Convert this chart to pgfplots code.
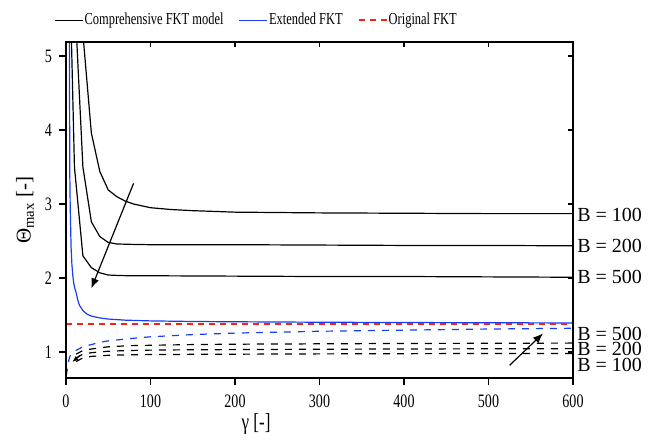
\documentclass[border=0pt]{standalone}
\usepackage{fontspec}
\setmainfont{Liberation Serif}[FakeStretch=0.74]
\newfontfamily\plainfont{Liberation Serif}
\usepackage{pgfplots}
\pgfplotsset{compat=1.18}
\usetikzlibrary{arrows.meta}
\definecolor{fktblue}{RGB}{25,60,250}
\definecolor{fktred}{RGB}{255,30,20}

\begin{document}
\begin{tikzpicture}
\useasboundingbox (-33pt,-33.5pt) rectangle (291pt,189pt);
\begin{axis}[
  at={(0,0)}, anchor=south west,
  scale only axis, width=253.5pt, height=168pt,
  xmin=0, xmax=600, ymin=0.648, ymax=5.19,
  xtick={0,100,...,600}, ytick={1,2,3,4,5},
  tick pos=left, tick align=outside, major tick length=3.5pt,
  every tick/.style={black, line width=0.65pt},
  axis line style={line width=0.65pt},
  /pgf/number format/assume math mode=true,
  tick label style={font=\fontsize{9.5}{10}\selectfont},
  xticklabel style={yshift=-1.2pt},
  xlabel={γ [-]},
  every axis x label/.style={at={(axis description cs:0.375,-0.137)}, anchor=center, font=\fontsize{11.5}{13}\selectfont},
  ylabel={{\plainfont Θ\textsubscript{max} [-]}},
  every axis y label/.style={at={(axis description cs:-0.081,0.5)}, anchor=center, rotate=90, font=\fontsize{10.5}{12}\selectfont},
  clip mode=individual,
  legend columns=3,
  legend style={draw=none, fill=none, at={(axis description cs:0.375,1.065)}, anchor=center,
    font=\fontsize{8.4}{9}\selectfont, nodes={inner sep=0.6pt},
    /tikz/every even column/.append style={column sep=7pt}},
  legend image code/.code={\draw[#1] (0pt,0pt) -- (14pt,0pt);},
]
% comprehensive FKT model, B = 100, 200, 500
\addplot[black, line width=0.6pt] coordinates {
 (20,5.30) (30,3.96) (40,3.44) (50,3.19) (60,3.10) (70,3.04) (80,3.00) (100,2.95)
 (125,2.925) (150,2.91) (200,2.89) (300,2.88) (400,2.875) (500,2.87) (600,2.87)};
\addlegendentry{Comprehensive FKT model}
\addplot[black, line width=0.6pt, forget plot] coordinates {
 (10,5.85) (20,3.50) (30,2.76) (40,2.56) (50,2.48) (60,2.46) (75,2.455) (100,2.45)
 (200,2.45) (300,2.445) (400,2.44) (500,2.44) (600,2.435)};
\addplot[black, line width=0.6pt, forget plot] coordinates {
 (5,5.91) (10,3.50) (20,2.30) (30,2.14) (40,2.07) (50,2.04) (60,2.035) (75,2.03)
 (100,2.03) (200,2.025) (300,2.02) (400,2.02) (500,2.015) (600,2.01)};
% extended FKT
\addplot[fktblue, line width=0.6pt] coordinates {
 (3.5,7.0) (4,5.2) (4.5,3.4) (5,2.95) (6,2.42) (7,2.18) (8,2.04) (9,1.94) (10,1.88)
 (12,1.80) (14,1.70) (16,1.63) (20,1.56) (25,1.51) (30,1.485) (40,1.46) (50,1.445)
 (70,1.43) (100,1.42) (150,1.412) (200,1.408) (300,1.402) (400,1.398) (500,1.395) (600,1.392)};
\addlegendentry{Extended FKT}
% original FKT
\addplot[color=fktred, line width=0.85pt, dashed, dash pattern=on 3pt off 2.5pt] table {
x y
0 1.382
300 1.382
600 1.382
};
\addlegendentry{Original FKT}
% dashed families
\addplot[fktblue, line width=0.6pt, dash pattern=on 3.5pt off 3.5pt, forget plot] coordinates {
 (0.5,0.68) (1,0.73) (2,0.79) (3,0.87) (4,0.92) (5,0.95) (7,0.98) (10,1.01) (15,1.04)
 (20,1.07) (30,1.10) (40,1.13) (50,1.15) (75,1.18) (100,1.205) (150,1.235) (200,1.255)
 (300,1.28) (400,1.295) (500,1.31) (600,1.32)};
\addplot[black, line width=0.6pt, dash pattern=on 3.5pt off 3.5pt, forget plot] coordinates {
 (12,0.97) (20,1.02) (30,1.04) (50,1.07) (75,1.085) (100,1.09) (150,1.10) (200,1.105)
 (300,1.11) (400,1.115) (500,1.117) (600,1.12)};
\addplot[black, line width=0.6pt, dash pattern=on 3.5pt off 3.5pt, forget plot] coordinates {
 (12,0.92) (20,0.97) (30,0.99) (50,1.01) (75,1.02) (100,1.025) (150,1.03) (200,1.032)
 (300,1.037) (400,1.04) (500,1.043) (600,1.045)};
\addplot[black, line width=0.6pt, dash pattern=on 3.5pt off 3.5pt, forget plot] coordinates {
 (12,0.87) (20,0.92) (30,0.94) (50,0.955) (75,0.962) (100,0.965) (150,0.968) (200,0.97)
 (300,0.974) (400,0.977) (500,0.979) (600,0.98)};
% arrows
\draw[line width=0.6pt, -{Latex[length=5pt,width=4pt]}] (axis cs:80,3.28) -- (axis cs:30,1.86);
\draw[line width=0.6pt, -{Latex[length=5pt,width=4pt]}] (axis cs:525,0.82) -- (axis cs:564.5,1.25);
\draw[line width=0.5pt, -{Latex[length=3pt,width=2.5pt]}] (axis cs:17,0.955) -- (axis cs:7.5,0.865);
% B labels
\begin{scope}[every node/.style={anchor=west, inner sep=0pt, xshift=2pt, font=\plainfont\fontsize{10}{12}\selectfont}]
\node at (axis cs:600,2.85) {B = 100};
\node at (axis cs:600,2.43) {B = 200};
\node at (axis cs:600,2.01) {B = 500};
\node at (axis cs:600,1.24) {B = 500};
\node at (axis cs:600,1.04) {B = 200};
\node at (axis cs:600,0.83) {B = 100};
\end{scope}
\end{axis}
\begin{axis}[
  at={(0,0)}, anchor=south west,
  scale only axis, width=253.5pt, height=168pt,
  xmin=0, xmax=600, ymin=0.648, ymax=5.19,
  xtick={0,100,...,600}, ytick={1,2,3,4,5},
  xticklabels={}, yticklabels={},
  tick pos=right, tick align=inside, major tick length=2.5pt,
  every tick/.style={black, line width=0.65pt},
  axis line style={line width=0.65pt},
]
\end{axis}
\end{tikzpicture}
\end{document}
